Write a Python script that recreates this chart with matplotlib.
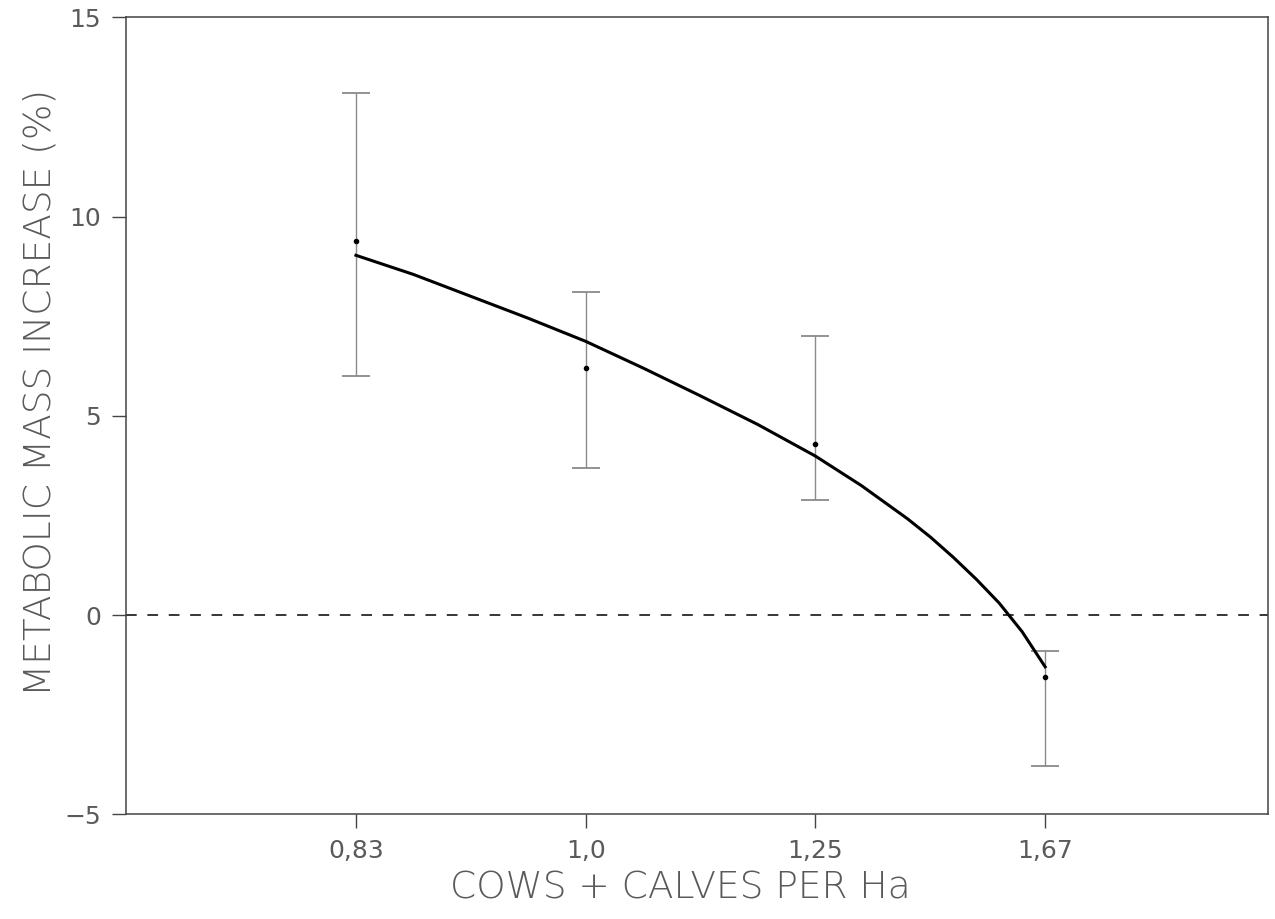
import matplotlib
matplotlib.use("Agg")
import matplotlib.pyplot as plt
import numpy as np

# Data
stocking_labels = ["0,83", "1,0", "1,25", "1,67"]
category_pos = [1, 2, 3, 4]
mean_values = [9.4, 6.2, 4.3, -1.55]
upper_values = [13.1, 8.1, 7.0, -0.9]
lower_values = [6.0, 3.7, 2.9, -3.8]

# fitted curve (x in category-position units)
curve_x = [1.0, 1.25, 1.5, 1.75, 2.0, 2.25, 2.5, 2.75, 3.0, 3.2, 3.4, 3.5, 3.6, 3.7, 3.8, 3.9, 4.0]
curve_y = [9.03, 8.55, 8.0, 7.45, 6.87, 6.2, 5.5, 4.78, 3.99, 3.25, 2.42, 1.96, 1.45, 0.9, 0.3, -0.42, -1.30]

y_ticks = [-5, 0, 5, 10, 15]

fig = plt.figure(figsize=(12.75, 9.19), dpi=100)
ax = fig.add_axes([0.099, 0.114, 0.8955, 0.867])

gray = "#5a5a5a"
means = np.array(mean_values)
yerr = [means - np.array(lower_values), np.array(upper_values) - means]
ax.errorbar(category_pos, mean_values, yerr=yerr, fmt="o", ms=3, color="black",
            ecolor="#8a8a8a", elinewidth=1.0, capsize=10, capthick=1.3, zorder=3)

ax.plot(curve_x, curve_y, color="black", lw=2.2, zorder=4)
ax.axhline(0, color="black", lw=1.1, ls=(0, (7, 7)), zorder=2)

ax.set_xlim(0, 4.97)
ax.set_ylim(-5, 15)
ax.set_xticks(category_pos)
ax.set_xticklabels(stocking_labels)
ax.set_yticks(y_ticks)

for s in ax.spines.values():
    s.set_color("#444444")
    s.set_linewidth(1.1)

ax.tick_params(direction="out", length=10, width=1, color="#444444",
               labelsize=18, labelcolor=gray, pad=8)

ax.set_xlabel("COWS + CALVES PER Ha", fontsize=27, color=gray,
              fontweight="light")
ax.set_ylabel("METABOLIC MASS INCREASE (%)", fontsize=27, color=gray,
              fontweight="light")
ax.yaxis.set_label_coords(-0.06, 0.53)
ax.xaxis.set_label_coords(0.485, -0.07)

fig.savefig("out.png", dpi=100)
